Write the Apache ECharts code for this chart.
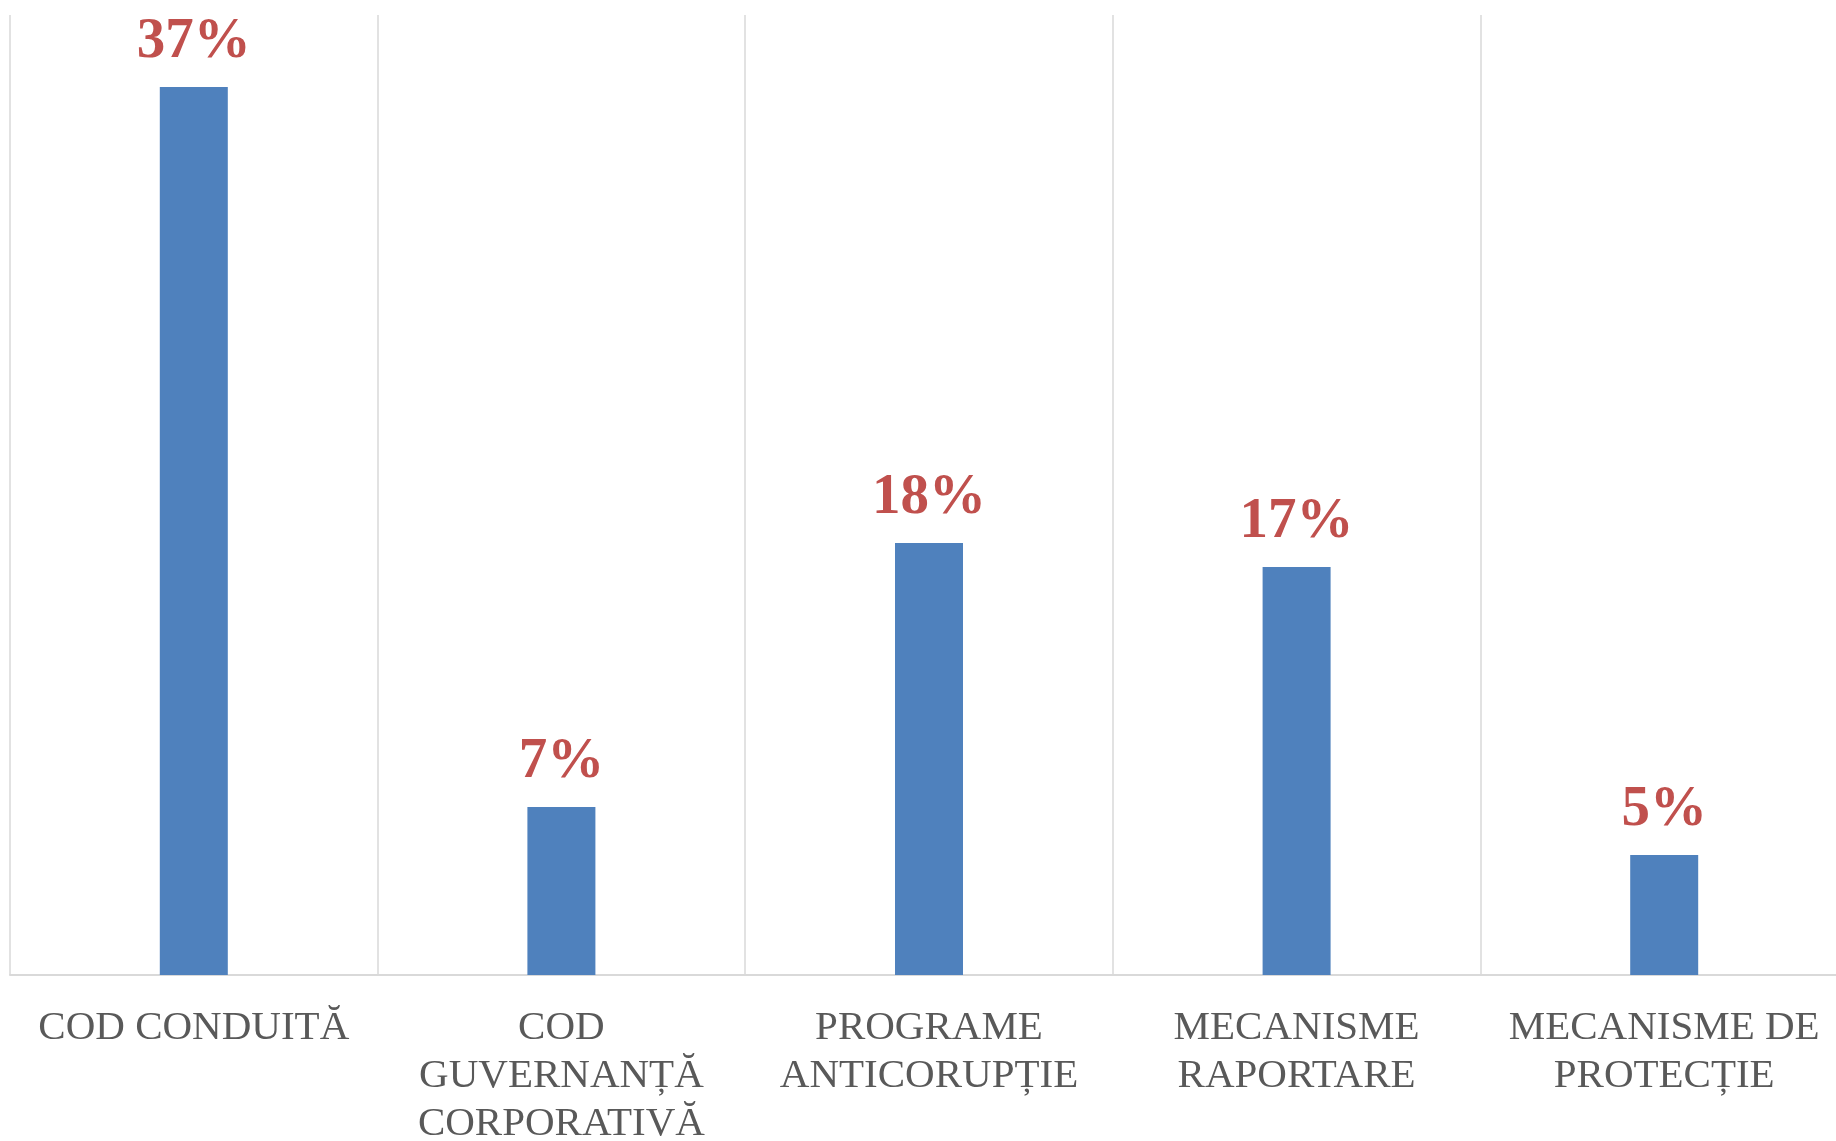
<!DOCTYPE html>
<html>
<head>
<meta charset="utf-8">
<script src="https://cdn.jsdelivr.net/npm/echarts@6/dist/echarts.min.js"></script>
<style>
html,body{margin:0;padding:0;background:#fff;}
#chart{width:1836px;height:1141px;}
</style>
</head>
<body>
<div id="chart"></div>
<script>
const categories = [
  'COD CONDUITĂ',
  'COD\nGUVERNANȚĂ\nCORPORATIVĂ',
  'PROGRAME\nANTICORUPȚIE',
  'MECANISME\nRAPORTARE',
  'MECANISME DE\nPROTECȚIE'
];
const values = [37, 7, 18, 17, 5];

const chart = echarts.init(document.getElementById('chart'));
chart.setOption({
  animation: false,
  backgroundColor: '#ffffff',
  grid: { left: 10, width: 1838, top: 15, bottom: 166, containLabel: false, outerBoundsMode: 'none' },
  xAxis: {
    type: 'category',
    data: categories,
    axisLine: { show: true, lineStyle: { color: '#d9d9d9', width: 2 } },
    axisTick: { show: false },
    splitLine: { show: true, lineStyle: { color: '#d9d9d9', width: 1.5 } },
    axisLabel: {
      interval: 0,
      margin: 29,
      color: '#595959',
      fontFamily: '"Liberation Serif", "DejaVu Serif", serif',
      fontSize: 41,
      lineHeight: 48
    }
  },
  yAxis: {
    type: 'value',
    min: 0,
    max: 40,
    show: false,
    splitLine: { show: false }
  },
  series: [{
    type: 'bar',
    data: values,
    barWidth: 68,
    itemStyle: { color: '#4f81bd' },
    label: {
      show: true,
      position: 'top',
      distance: 16,
      formatter: '{c}%',
      color: '#c0504d',
      fontFamily: '"Liberation Serif", "DejaVu Serif", serif',
      fontWeight: 'bold',
      fontSize: 57,
      lineHeight: 57
    }
  }]
});
</script>
</body>
</html>
